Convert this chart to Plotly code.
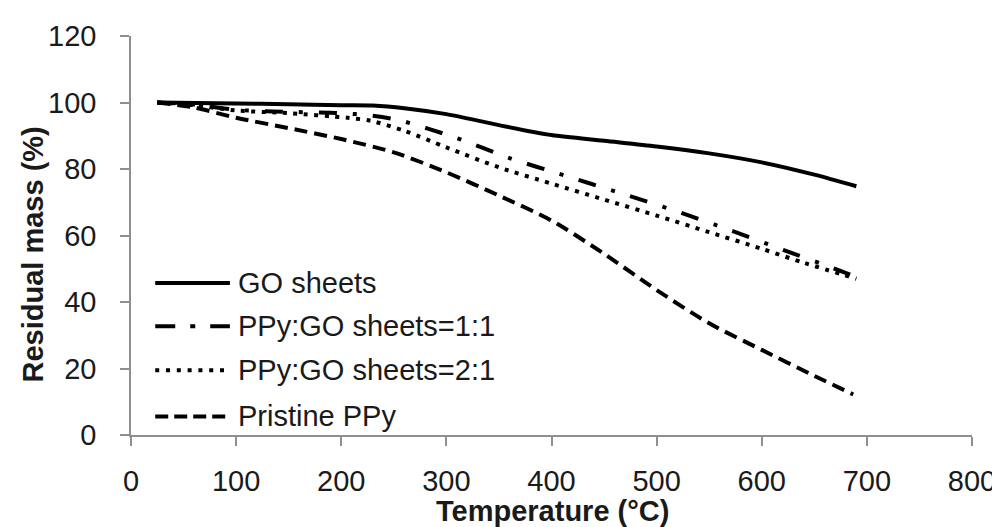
import plotly.graph_objects as go

# ---- data (Temperature in °C, residual mass in %) ----
go_T = [25, 100, 150, 200, 230, 260, 300, 350, 400, 450, 500, 550, 600, 650, 690]
go_M = [100, 99.7, 99.5, 99.2, 99.1, 98.3, 96.5, 93.2, 90.2, 88.5, 86.8, 84.7, 82.0, 78.3, 74.8]

p11_T = [25, 60, 100, 150, 200, 230, 256, 308, 360, 413, 465, 518, 570, 621, 673, 690]
p11_M = [100, 99.4, 97.8, 97.2, 96.8, 96.0, 94.6, 89.5, 83.3, 78.0, 72.8, 67.4, 61.6, 55.6, 49.6, 47.5]

p21_T = [25, 60, 100, 150, 206, 228, 260, 300, 350, 400, 450, 500, 550, 600, 640, 690]
p21_M = [100, 99.2, 97.6, 96.8, 95.4, 94.5, 91.5, 86.5, 80.5, 75.6, 70.8, 66.0, 61.0, 56.0, 51.8, 47.0]

ppy_T = [25, 60, 100, 150, 200, 250, 300, 350, 400, 450, 500, 550, 600, 650, 687]
ppy_M = [100, 98.5, 95.4, 92.3, 89.0, 85.0, 79.0, 72.0, 64.5, 54.5, 43.6, 33.6, 25.6, 17.8, 12.2]

series_names = ["GO sheets", "PPy:GO sheets=1:1", "PPy:GO sheets=2:1", "Pristine PPy"]
x_ticks = [0, 100, 200, 300, 400, 500, 600, 700, 800]
y_ticks = [0, 20, 40, 60, 80, 100, 120]

# ---- styles ----
dashes = ["solid", "18px,16px,4px,16px", "4px,6.5px", "13px,7px"]
legend_dashes = ["solid", "20px,15px,5px,15px", "4px,6.8px", "13px,6px"]
LW = 4
FONT = "Liberation Sans, Arial, sans-serif"
AXIS_COL = "#8f8f8f"
TXT = "#1a1a1a"

fig = go.Figure()
for name, xs, ys, d in zip(series_names, [go_T, p11_T, p21_T, ppy_T],
                           [go_M, p11_M, p21_M, ppy_M], dashes):
    fig.add_trace(go.Scatter(x=xs, y=ys, mode="lines", name=name,
                             line=dict(color="black", width=LW, dash=d,
                                       shape="spline", smoothing=0.8),
                             showlegend=False))

fig.update_layout(
    width=1000, height=527,
    margin=dict(l=123, r=33, t=28, b=100),
    plot_bgcolor="white", paper_bgcolor="white",
    font=dict(family=FONT, size=29, color=TXT),
    showlegend=False,
)
fig.update_xaxes(range=[0, 800], tickvals=x_ticks, showline=True, linecolor=AXIS_COL,
                 linewidth=1.5, ticks="outside", ticklen=9, tickcolor=AXIS_COL, tickwidth=1.5,
                 showgrid=False, zeroline=False, ticklabelstandoff=10,
                 tickfont=dict(size=29, color=TXT))
fig.update_yaxes(range=[0, 120], tickvals=y_ticks, showline=True, linecolor=AXIS_COL,
                 linewidth=1.5, ticks="outside", ticklen=9, tickcolor=AXIS_COL, tickwidth=1.5,
                 showgrid=False, zeroline=False, ticklabelstandoff=18,
                 tickfont=dict(size=29, color=TXT))

# axis titles
fig.add_annotation(text="<b>Temperature (°C)</b>", xref="paper", yref="paper",
                   x=0.501, y=-0.19, xanchor="center", yanchor="middle", showarrow=False,
                   font=dict(size=29, family=FONT, color=TXT))
fig.add_annotation(text="<b>Residual mass (%)</b>", xref="paper", yref="paper",
                   x=-0.116, y=0.4535, xanchor="center", yanchor="middle", showarrow=False,
                   textangle=-90, font=dict(size=29, family=FONT, color=TXT))

# legend drawn inside the plot (lower left)
rows_y = [0.3807, 0.2726, 0.1621, 0.0465]
for name, d, yy in zip(series_names, legend_dashes, rows_y):
    fig.add_shape(type="line", xref="paper", yref="paper", x0=0.0288, x1=0.1176,
                  y0=yy, y1=yy, line=dict(color="black", width=LW, dash=d))
    fig.add_annotation(text=name, xref="paper", yref="paper", x=0.1247, y=yy,
                       xanchor="left", yanchor="middle", showarrow=False,
                       font=dict(size=29, family=FONT, color=TXT))

fig.write_html("out.html")
